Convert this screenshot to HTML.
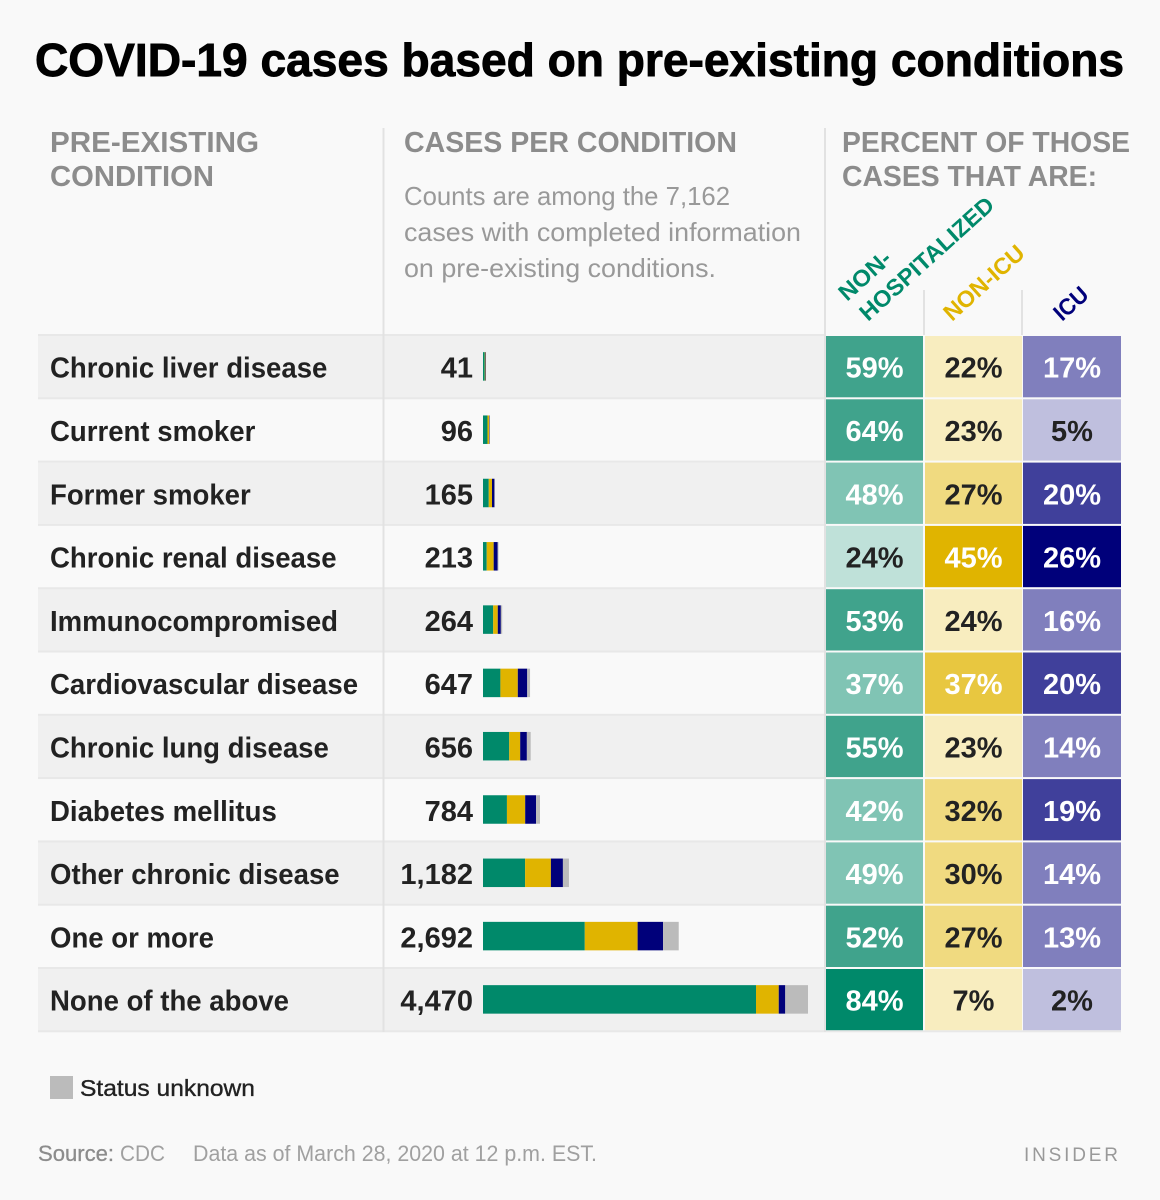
<!DOCTYPE html>
<html lang="en">
<head>
<meta charset="utf-8">
<title>COVID-19 cases based on pre-existing conditions</title>
<style>
html,body{margin:0;padding:0;background:#f9f9f9;width:1160px;height:1200px;overflow:hidden}
svg{display:block}
text{font-family:"Liberation Sans",sans-serif}
.hd{font-size:29px;font-weight:700;fill:#8c8c8c}
.sub{font-size:26px;fill:#999}
</style>
</head>
<body>
<svg id="chart" xmlns="http://www.w3.org/2000/svg" width="1160" height="1200" viewBox="0 0 1160 1200">
  <rect x="0" y="0" width="1160" height="1200" fill="#f9f9f9"/>
  <text x="35" y="76" font-size="46" font-weight="700" fill="#000" stroke="#000" stroke-width="0.9" textLength="1089" lengthAdjust="spacingAndGlyphs">COVID-19 cases based on pre-existing conditions</text>

  <g>
    <text class="hd" x="50" y="152" textLength="209" lengthAdjust="spacingAndGlyphs">PRE-EXISTING</text>
    <text class="hd" x="50" y="186" textLength="164" lengthAdjust="spacingAndGlyphs">CONDITION</text>
    <text class="hd" x="404" y="152" textLength="333" lengthAdjust="spacingAndGlyphs">CASES PER CONDITION</text>
    <text class="sub" x="404" y="205" textLength="326" lengthAdjust="spacingAndGlyphs">Counts are among the 7,162</text>
    <text class="sub" x="404" y="241" textLength="397" lengthAdjust="spacingAndGlyphs">cases with completed information</text>
    <text class="sub" x="404" y="277" textLength="312" lengthAdjust="spacingAndGlyphs">on pre-existing conditions.</text>
    <text class="hd" x="842" y="152" textLength="288" lengthAdjust="spacingAndGlyphs">PERCENT OF THOSE</text>
    <text class="hd" x="842" y="186" textLength="255" lengthAdjust="spacingAndGlyphs">CASES THAT ARE:</text>
    <text transform="translate(847 302) rotate(-42)" font-size="23" font-weight="700" fill="#00896a" textLength="62" lengthAdjust="spacingAndGlyphs">NON-</text>
    <text transform="translate(868 322) rotate(-42)" font-size="23" font-weight="700" fill="#00896a" textLength="172" lengthAdjust="spacingAndGlyphs">HOSPITALIZED</text>
    <text transform="translate(952 322) rotate(-42)" font-size="23" font-weight="700" fill="#e0b400" textLength="100" lengthAdjust="spacingAndGlyphs">NON-ICU</text>
    <text transform="translate(1062 322) rotate(-42)" font-size="23" font-weight="700" fill="#00007a" textLength="38" lengthAdjust="spacingAndGlyphs">ICU</text>
  </g>

  <g id="rows"></g>

  <g>
    <line x1="383.5" y1="128" x2="383.5" y2="1032" stroke="#e2e2e2" stroke-width="2"/>
    <line x1="825" y1="128" x2="825" y2="1032" stroke="#e2e2e2" stroke-width="2"/>
    <line x1="924" y1="290" x2="924" y2="335" stroke="#e2e2e2" stroke-width="2"/>
    <line x1="1022" y1="290" x2="1022" y2="335" stroke="#e2e2e2" stroke-width="2"/>
  </g>

  <g>
    <rect x="50" y="1076" width="23" height="23" fill="#bbb"/>
    <text x="80" y="1096" font-size="23" fill="#222" stroke="#222" stroke-width="0.35" textLength="175" lengthAdjust="spacingAndGlyphs">Status unknown</text>
  </g>

  <g>
    <text x="38" y="1161" font-size="22" fill="#8c8c8c" stroke="#8c8c8c" stroke-width="0.3" textLength="76" lengthAdjust="spacingAndGlyphs">Source:</text>
    <text x="120" y="1161" font-size="22" fill="#a0a0a0" textLength="45" lengthAdjust="spacingAndGlyphs">CDC</text>
    <text x="193" y="1161" font-size="22" fill="#a0a0a0" textLength="404" lengthAdjust="spacingAndGlyphs">Data as of March 28, 2020 at 12 p.m. EST.</text>
    <text x="1024" y="1161" font-size="19" fill="#999" textLength="94" lengthAdjust="spacing">INSIDER</text>
  </g>
</svg>

<script>
const conditions = ['Chronic liver disease','Current smoker','Former smoker','Chronic renal disease','Immunocompromised','Cardiovascular disease','Chronic lung disease','Diabetes mellitus','Other chronic disease','One or more','None of the above'];
const caseCounts = [41,96,165,213,264,647,656,784,1182,2692,4470];
const nonHospitalized = [59,64,48,24,53,37,55,42,49,52,84];
const nonIcu = [22,23,27,45,24,37,23,32,30,27,7];
const icu = [17,5,20,26,16,20,14,19,14,13,2];

const NS = 'http://www.w3.org/2000/svg';
const rowsGroup = document.getElementById('rows');
const BAR_X0 = 483, BAR_SPAN = 325, MAX_COUNT = 4470;
const ROW_TOP = 335, ROW_STEP = 63.3;
const rowY = i => ROW_TOP + ROW_STEP * i;
const barW = (count, pct) => count * (pct / 100) * BAR_SPAN / MAX_COUNT;
const GREEN = '#00896a', YELLOW = '#e0b400', NAVY = '#00007a', GREY = '#bbbbbb';

function greenStyle(v){
  if (v >= 70) return ['#00896a','#fff'];
  if (v >= 50) return ['#40a38c','#fff'];
  if (v >= 30) return ['#80c4b4','#fff'];
  return ['#bfe1d9','#222'];
}
function yellowStyle(v){
  if (v >= 40) return ['#e0b400','#fff'];
  if (v >= 35) return ['#e8c740','#fff'];
  if (v >= 25) return ['#f0da80','#222'];
  return ['#f8edbf','#222'];
}
function navyStyle(v){
  if (v >= 25) return ['#00007a','#fff'];
  if (v >= 19) return ['#40409b','#fff'];
  if (v >= 10) return ['#807fbd','#fff'];
  return ['#bfbfde','#222'];
}
function make(tag, attrs, parent){
  const el = document.createElementNS(NS, tag);
  for (const k in attrs) el.setAttribute(k, attrs[k]);
  parent.appendChild(el);
  return el;
}

conditions.forEach((name, i) => {
  const y = rowY(i);
  const cy = y + ROW_STEP / 2;
  const g = make('g', {}, rowsGroup);
  
  

  const bg = make('rect', {x: 38, y: y, width: 787, height: ROW_STEP, fill: i % 2 === 0 ? '#f0f0f0' : '#f9f9f9'}, g);
  
  

  const sep = make('rect', {x: 38, y: y - 1, width: 787, height: 2, fill: '#e8e8e8'}, g);
  
  

  const label = make('text', {transform: 'translate(50 ' + (cy + 11) + ') scale(0.968 1)', 'font-size': 28.5, 'font-weight': 700, fill: '#222'}, g);
  label.textContent = name;
  
  

  const count = make('text', {x: 473, y: cy + 11, 'font-size': 29, 'font-weight': 700, fill: '#222', 'text-anchor': 'end'}, g);
  count.textContent = caseCounts[i].toLocaleString('en-US');
  
  

  const unknown = 100 - nonHospitalized[i] - nonIcu[i] - icu[i];
  const segments = [[nonHospitalized[i], GREEN, 'non-hospitalized'], [nonIcu[i], YELLOW, 'non-icu'], [icu[i], NAVY, 'icu'], [unknown, GREY, 'unknown']];
  let x = BAR_X0;
  segments.forEach(seg => {
    const w = barW(caseCounts[i], seg[0]);
    const bar = make('rect', {x: x, y: cy - 14.5, width: w, height: 28.5, fill: seg[1]}, g);
    
    
    x += w;
  });

  const cells = [
    [826, 97, nonHospitalized[i], greenStyle(nonHospitalized[i]), 'non-hospitalized'],
    [925, 97, nonIcu[i], yellowStyle(nonIcu[i]), 'non-icu'],
    [1023, 98, icu[i], navyStyle(icu[i]), 'icu']
  ];
  cells.forEach(c => {
    const cell = make('rect', {x: c[0], y: y + 1, width: c[1], height: ROW_STEP - 2, fill: c[3][0]}, g);
    
    
    const pct = make('text', {x: c[0] + c[1] / 2, y: cy + 11, 'font-size': 29, 'font-weight': 700, fill: c[3][1], 'text-anchor': 'middle'}, g);
    pct.textContent = c[2] + '%';
    
    
  });
});

const endLine = make('rect', {x: 38, y: rowY(conditions.length) - 1, width: 1083, height: 2, fill: '#e8e8e8'}, rowsGroup);


</script>
</body>
</html>
